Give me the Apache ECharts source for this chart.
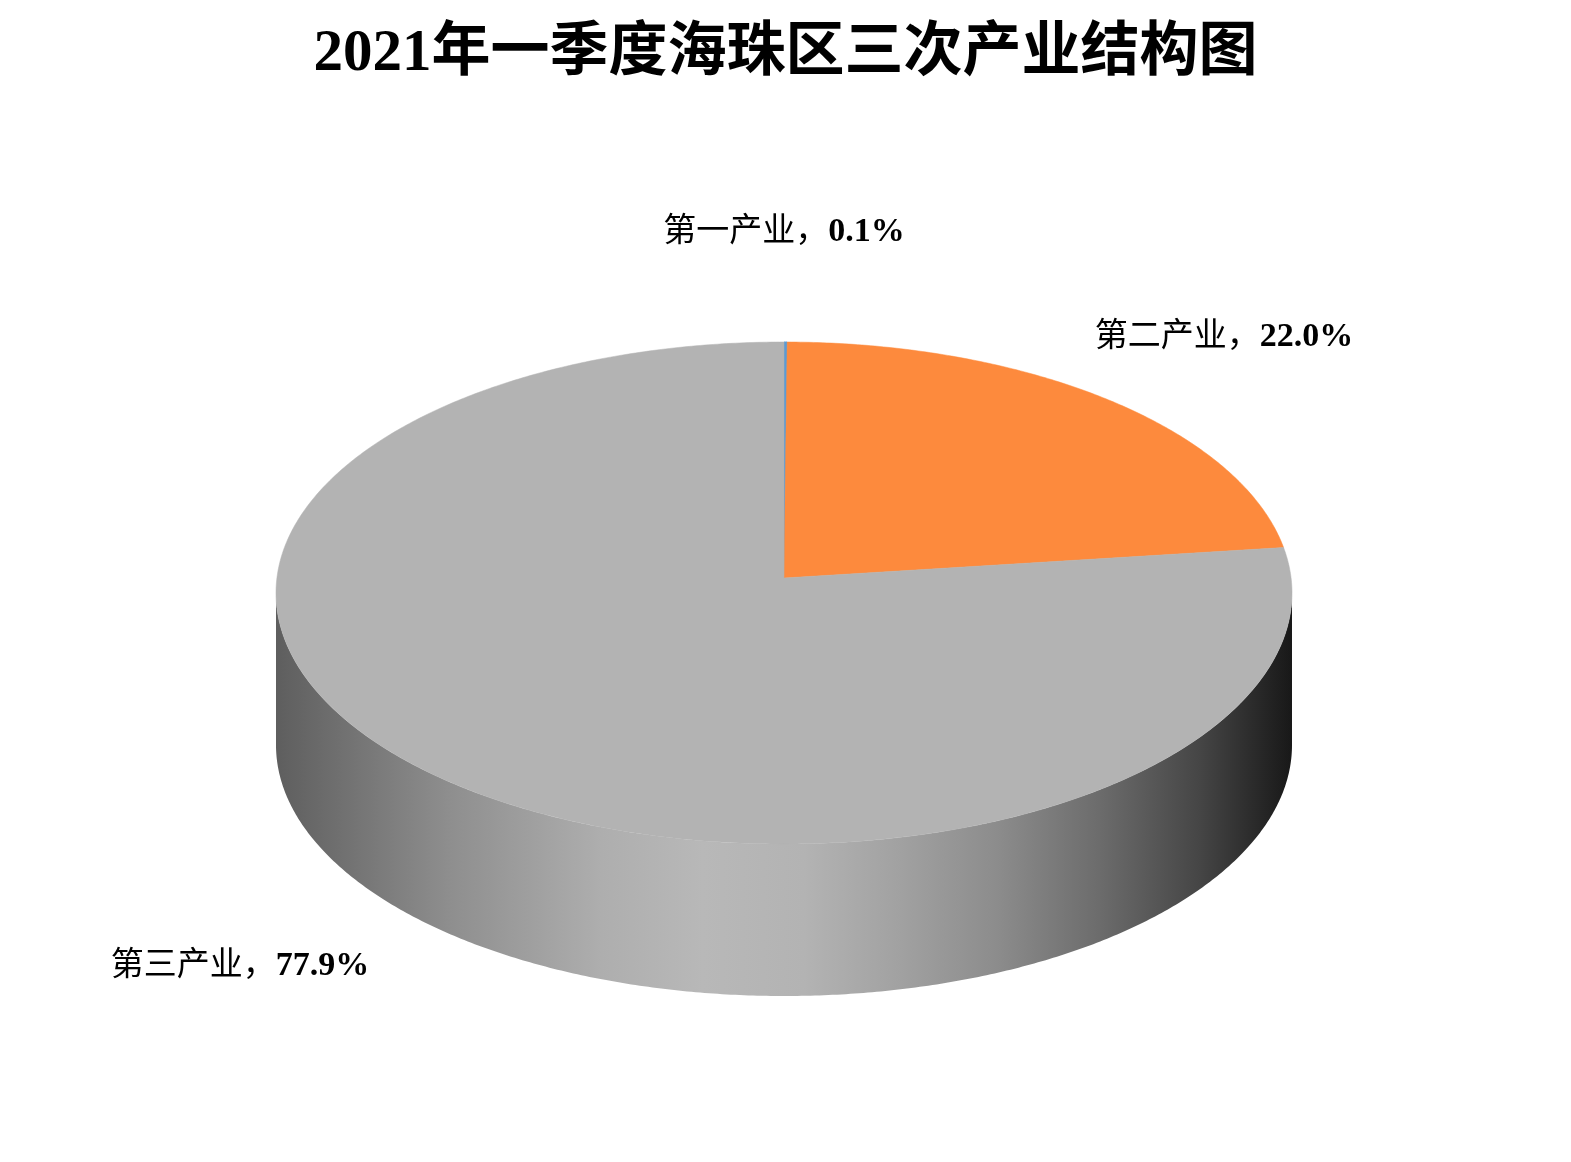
<!DOCTYPE html>
<html>
<head>
<meta charset="utf-8">
<script src="https://cdn.jsdelivr.net/npm/echarts@6/dist/echarts.min.js"></script>
<style>
html,body{margin:0;padding:0;background:#fff;}
#chart{width:1571px;height:1162px;}
</style>
</head>
<body>
<div id="chart"></div>
<script>
// ---- data ----
const titleText = '2021年一季度海珠区三次产业结构图';
const categories = ['第一产业', '第二产业', '第三产业'];
const shares = [0.1, 22.0, 77.9];
const shareLabels = ['0.1%', '22.0%', '77.9%'];

// ---- style / layout ----
const sliceColors = ['#5b9bd5', '#fd8a3d', '#b3b3b3'];
const geo = { cx: 784, cy: 593, rx: 508, ry: 251, depth: 152, apexShift: -15 };
const labelAnchors = [[784, 232], [1224, 337], [240, 966]];
const wallGradientStops = [
  { offset: 0.00, color: '#5e5e5e' },
  { offset: 0.17, color: '#8e8e8e' },
  { offset: 0.32, color: '#aeaeae' },
  { offset: 0.42, color: '#b8b8b8' },
  { offset: 0.52, color: '#b3b3b3' },
  { offset: 0.61, color: '#a2a2a2' },
  { offset: 0.71, color: '#8c8c8c' },
  { offset: 0.81, color: '#6c6c6c' },
  { offset: 0.91, color: '#454545' },
  { offset: 1.00, color: '#181818' }
];

const total = shares.reduce((a, b) => a + b, 0);
const cumStart = [];
shares.reduce((acc, v, i) => { cumStart[i] = acc; return acc + v; }, 0);

function arcPt(deg, dy) {
  const t = deg * Math.PI / 180;
  return [geo.cx + geo.rx * Math.sin(t), geo.cy - geo.ry * Math.cos(t) + (dy || 0)];
}
function arcPts(a, b, dy) {
  const pts = [];
  const n = Math.max(2, Math.ceil(Math.abs(b - a) / 0.5));
  for (let i = 0; i <= n; i++) pts.push(arcPt(a + (b - a) * i / n, dy));
  return pts;
}

const chart = echarts.init(document.getElementById('chart'), null, { renderer: 'canvas' });

function renderItem(params, api) {
  const i = params.dataIndex;
  const v = api.value(0);
  const a = cumStart[i] / total * 360;
  const b = a + v / total * 360;
  const children = [];
  // side wall (front half 90..270)
  const fa = Math.max(a, 90), fb = Math.min(b, 270);
  if (fb > fa) {
    const top = arcPts(fa, fb, 0);
    const bottom = arcPts(fb, fa, geo.depth);
    children.push({
      type: 'polygon',
      shape: { points: top.concat(bottom) },
      style: {
        fill: {
          type: 'linear', x: geo.cx - geo.rx, y: 0, x2: geo.cx + geo.rx, y2: 0,
          global: true, colorStops: wallGradientStops
        }
      }
    });
  }
  // top face
  const pts = [[geo.cx, geo.cy + geo.apexShift]].concat(arcPts(a, b, 0));
  children.push({
    type: 'polygon',
    shape: { points: pts },
    style: { fill: sliceColors[i], stroke: sliceColors[i], lineWidth: i === 0 ? 1 : 0.5 }
  });
  // label
  const anc = labelAnchors[i];
  children.push({
    type: 'text',
    x: anc[0], y: anc[1],
    style: {
      text: '{a|' + categories[i] + '，}{b|' + shareLabels[i] + '}',
      align: 'center', verticalAlign: 'middle',
      rich: {
        a: { fontFamily: '"Liberation Serif","Noto Sans CJK SC"', fontSize: 33, fill: '#000', fontWeight: 'normal' },
        b: { fontFamily: '"Liberation Serif"', fontSize: 34, fill: '#000', fontWeight: 'bold' }
      }
    }
  });
  return { type: 'group', children: children };
}

chart.setOption({
  backgroundColor: '#ffffff',
  animation: false,
  title: {
    text: titleText,
    left: 'center',
    top: 20,
    textStyle: {
      fontFamily: '"Liberation Serif","Noto Sans CJK SC"',
      fontSize: 59,
      fontWeight: 'bold',
      color: '#000'
    }
  },
  series: [{
    type: 'custom',
    coordinateSystem: 'none',
    renderItem: renderItem,
    data: shares.map((v, i) => ({ name: categories[i], value: [v] }))
  }]
});
</script>
</body>
</html>
